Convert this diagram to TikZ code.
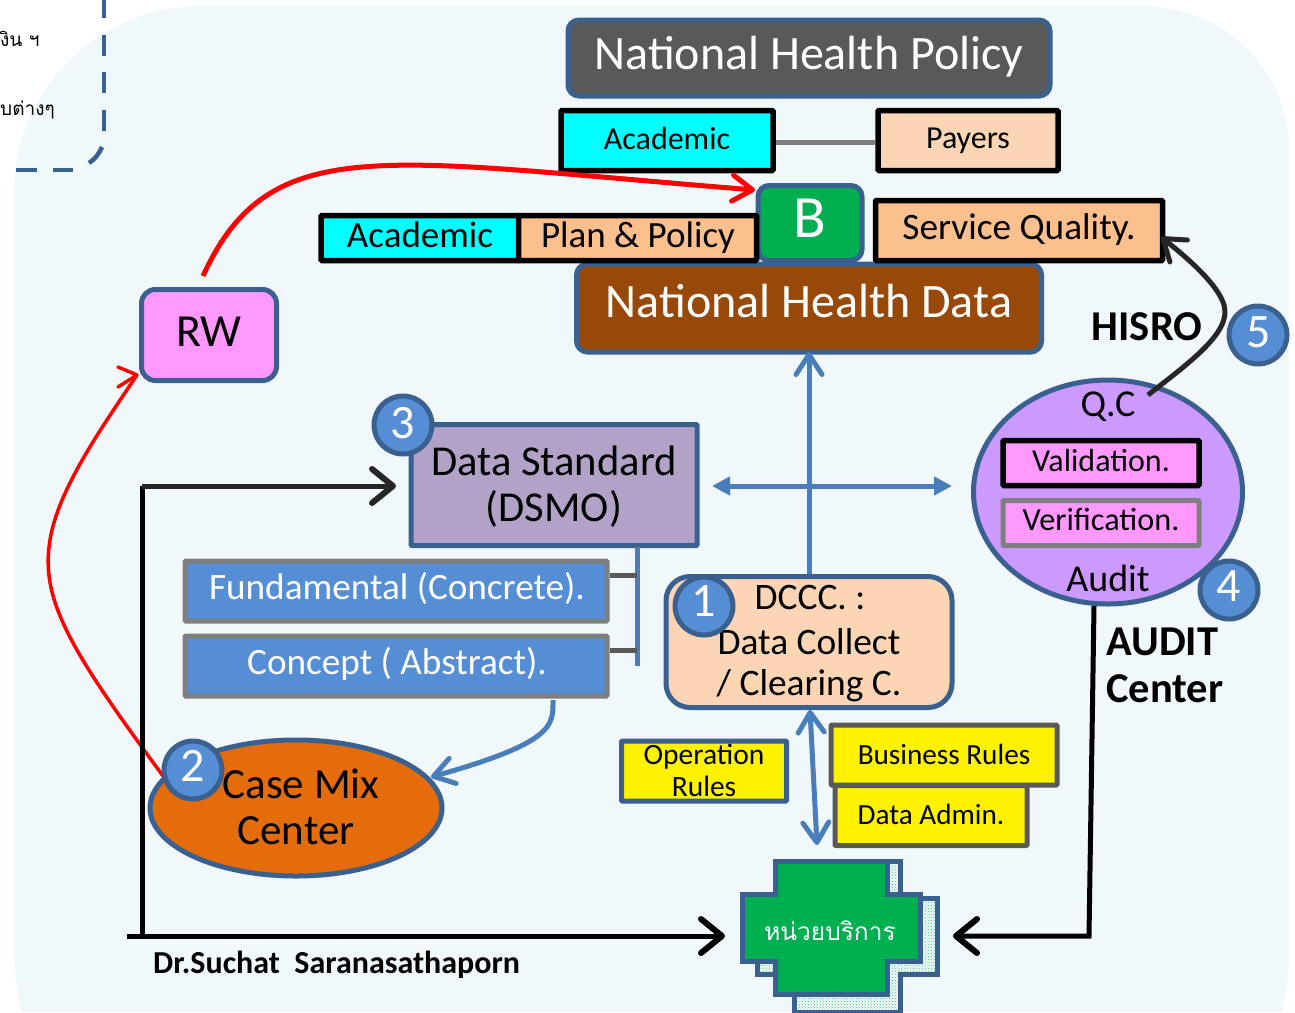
\documentclass[tikz,border=0pt]{standalone}
\usepackage{fontspec}
\setmainfont{Carlito}
\newfontfamily\thaifont[Script=Thai]{Loma}
\usetikzlibrary{arrows.meta,shapes.geometric,patterns}
\definecolor{bgc}{HTML}{F1F8FB}
\definecolor{edgeb}{HTML}{3A6090}
\definecolor{midb}{HTML}{4A7EBB}
\definecolor{fillb}{HTML}{558ED5}
\definecolor{greyb}{HTML}{7F7F7F}
\definecolor{peach}{HTML}{FCD5B5}
\definecolor{peachb}{HTML}{FCC08E}
\definecolor{aqua}{HTML}{00FFFF}
\definecolor{darkgrey}{HTML}{595959}
\definecolor{brownb}{HTML}{984807}
\definecolor{greenb}{HTML}{00B050}
\definecolor{pinkb}{HTML}{FF99FF}
\definecolor{lilac}{HTML}{CC99FF}
\definecolor{steel}{HTML}{B2A2C7}
\definecolor{orangeb}{HTML}{E46C0A}
\definecolor{darkc}{HTML}{262626}
\tikzset{
 fs/.style={font=\fontsize{#1}{#1}\selectfont},
 fb/.style={font=\bfseries\fontsize{#1}{#1}\selectfont},
 base/.style={inner sep=0pt,align=center,text=black},
 wt/.style={base,text=white},
 bluebox/.style={base,draw=edgeb,line width=5pt,rounded corners=11pt},
 blackbox/.style={base,draw=black,line width=5.5pt,rounded corners=1pt},
 greybox/.style={base,draw=greyb,line width=5pt,fill=fillb,rounded corners=1pt},
 badge/.style={circle,draw=edgeb,line width=5pt,fill=fillb,text=white,inner sep=0pt,minimum size=58pt},
 bbarb/.tip={Straight Barb[round,length=20pt,width=26pt,line width=5pt]},
 kbarb/.tip={Straight Barb[round,length=21pt,width=34pt,line width=6pt]},
 barrow/.style={draw=midb,line width=5pt},
 karrow/.style={draw=black,line width=5pt},
}
\newcommand{\boxat}[5][]{\node[#1,minimum width=#4pt,minimum height=#5pt] (#2) at (#3) {};}
\begin{document}
\begin{tikzpicture}[x=1pt,y=-1pt]
\useasboundingbox (0,0) rectangle (1295,1012);
\fill[bgc] (14,190) .. controls (14,90) and (100,6) .. (200,6) -- (1140,6) .. controls (1225,6) and (1289,70) .. (1289,150) -- (1289,950) .. controls (1289,975) and (1286,995) .. (1282,1012) -- (22,1012) .. controls (17,995) and (14,975) .. (14,950) -- cycle;
% corner fragment
\draw[edgeb,line width=4.5pt,dash pattern=on 21pt off 16.5pt] (104,-3) -- (104,131);
\draw[edgeb,line width=4.5pt] (102,147) .. controls (99,154) and (95,159) .. (89,163);
\draw[edgeb,line width=4.5pt] (73,170) -- (53,170);
\draw[edgeb,line width=4.5pt] (37,170) -- (16,170);
\node[base,anchor=west,fs=19] (frag1) at (0,39) {\thaifont งิน ฯ};
\node[base,anchor=west,fs=19] (frag2) at (0,110) {\thaifont บต่างๆ};
% top
\boxat[bluebox,fill=darkgrey]{policy}{809,58}{482}{76}
\node[wt,fs=48] (policyt) at (809,57) {National Health Policy};
\boxat[blackbox,fill=aqua]{acad1}{667,140.5}{212}{60}
\node[base,fs=32] (acad1t) at (667,139) {Academic};
\boxat[blackbox,fill=peach]{payers}{968,140.5}{180}{60}
\node[base,fs=32] (payerst) at (968,141) {Payers};
\draw[greyb,line width=5pt] ([yshift=-1.5pt]acad1.east) -- ([yshift=-1.5pt]payers.west);
\boxat[bluebox,fill=brownb]{data}{809,308}{465}{88}
\node[wt,fs=48] (datat) at (809,301) {National Health Data};
\boxat[bluebox,fill=greenb]{bnode}{810,223}{104}{75}
\node[wt,fs=60] (bt) at (810,218) {B};
\boxat[blackbox,fill=aqua]{acad2}{420,238}{198}{45}
\node[base,fs=37] (acad2t) at (420,235) {Academic};
\boxat[blackbox,fill=peachb]{plan}{637.5,238}{238}{45}
\node[base,fs=37] (plant) at (638,238) {Plan \& Policy};
\boxat[blackbox,fill=peachb]{quality}{1019,230.5}{287}{60}
\node[base,fs=37.3] (qualityt) at (1019,230) {Service Quality.};
% RW
\boxat[bluebox,fill=pinkb,rounded corners=14pt]{rw}{209,335}{135}{91}
\node[base,fs=46] (rwt) at (209,332) {RW};
% DSMO
\boxat[base,draw=edgeb,line width=5pt,fill=steel,rounded corners=1pt]{dsmo}{554,485}{286}{121}
\node[base,fs=42.6] (dsmot1) at (554,461) {Data Standard};
\node[base,fs=42.6] (dsmot2) at (554,509) {(DSMO)};
\coordinate (spine) at (637,547);
\coordinate (spineb) at (637,666);
\draw[midb,line width=5pt] (spine) -- (spineb);
\boxat[greybox]{fund}{396,591}{422}{60}
\node[wt,fs=37.2] (fundt) at (397,588) {Fundamental (Concrete).};
\boxat[greybox]{conc}{396,666}{422}{60}
\node[wt,fs=37.2] (conct) at (397,664) {Concept ( Abstract).};
\draw[darkgrey,line width=5pt] (fund.east|-0,575) -- (637,575);
\draw[darkgrey,line width=5pt] (conc.east|-0,650) -- (637,650);
% DCCC
\boxat[bluebox,fill=peach,rounded corners=24pt]{dccc}{809,642}{286}{131}
\node[base,fs=37.4] (dccct1) at (810,598) {DCCC. :};
\node[base,fs=37.4] (dccct2) at (809,642) {Data Collect};
\node[base,fs=37.4] (dccct3) at (809,686) {/ Clearing C.};
% QC ellipse
\node[ellipse,draw=edgeb,line width=5pt,fill=lilac,minimum width=269pt,minimum height=224pt,inner sep=0pt] (qc) at (1108,492) {};
\node[base,fs=38] (qct) at (1108,407) {Q.C};
\node[base,fs=38] (audt) at (1108,578) {Audit};
\boxat[blackbox,fill=pinkb]{valid}{1101,463}{196}{45}
\node[base,fs=32] (validt) at (1101,461) {Validation.};
\boxat[base,draw=greyb,line width=5pt,fill=pinkb,rounded corners=1pt]{verif}{1101,523}{196}{45}
\node[base,fs=32.2] (veriftx) at (1101,519) {Verification.};
% Case mix
\node[ellipse,draw=edgeb,line width=5pt,fill=orangeb,minimum width=292pt,minimum height=136pt,inner sep=0pt] (case) at (296,808) {};
\node[base,fs=43] (caset1) at (301,784) {Case Mix};
\node[base,fs=43] (caset2) at (296,831) {Center};
% yellow
\boxat[base,draw=edgeb,line width=5pt,fill=yellow,rounded corners=1pt]{oper}{704,771}{165}{60}
\node[base,fs=29.5] (opert1) at (704,757) {Operation};
\node[base,fs=29.5] (opert2) at (704,786) {Rules};
\boxat[base,draw=darkgrey,line width=5pt,fill=yellow,rounded corners=1pt]{bus}{944,755}{226}{60}
\node[base,fs=29.2] (bust) at (944,754) {Business Rules};
\boxat[base,draw=darkgrey,line width=5pt,fill=yellow,rounded corners=1pt]{adm}{931,815.5}{192}{60}
\node[base,fs=29.2] (admt) at (931,814) {Data Admin.};
% service cross
\draw[edgeb,line width=5pt,pattern=crosshatch dots,pattern color=greenb!70] (794,861)--(900,861)--(900,898)--(937,898)--(937,974)--(900,974)--(900,1012)--(794,1012)--(794,974)--(757,974)--(757,898)--(794,898)--cycle;
\draw[edgeb,line width=5pt,fill=greenb] (775,861)--(887,861)--(887,894)--(920,894)--(920,961)--(887,961)--(887,994)--(775,994)--(775,961)--(742,961)--(742,894)--(775,894)--cycle;
\coordinate (unitl) at (725,936);
\coordinate (unitr) at (953,936);
\node[wt,fs=24.5] (unit) at (830,931) {\thaifont หน่วยบริการ};
% connectors
\coordinate (datatip) at (809,352);
\coordinate (hl) at (712,486);
\coordinate (hr) at (952,486);
\coordinate (dccctop) at (809,574);
\coordinate (dcccbot) at (810,710);
\coordinate (unittop) at (817,845);
\draw[barrow,-{bbarb}] (dccctop) -- (datatip);
\draw[barrow,{Triangle[length=18pt,width=18pt]}-{Triangle[length=18pt,width=18pt]}] (hl) -- (hr);
\draw[barrow,{bbarb}-{bbarb}] (dcccbot) -- (unittop);
\coordinate (concb) at (553,700);
\coordinate (casetip) at (431,777);
\draw[barrow,-{bbarb}] (concb) .. controls (553,725) and (556,742) .. (casetip);
\coordinate (rwstart) at (203,276);
\coordinate (btip) at (755,190);
\draw[red,line width=5pt,-{Straight Barb[round,length=20pt,width=26pt,line width=5pt]}] (rwstart) .. controls (270,130) and (380,160) .. (btip);
\coordinate (casestart) at (166,780);
\coordinate (rwtip) at (137,375);
\coordinate (rwarm1) at (118,367);
\coordinate (rwarm2) at (118,387);
\draw[red,line width=3.5pt] (casestart) .. controls (70,650) and (40,600) .. (50,540) .. controls (58,490) and (100,430) .. (rwtip);
\draw[red,line width=3.5pt,line cap=round,line join=round] (rwarm1) -- (rwtip) -- (rwarm2);
\coordinate (k1) at (142,936);
\coordinate (k2) at (142,486);
\coordinate (dsmotip) at (396,486);
\draw[karrow] (k1) -- (k2);
\draw[darkc,line width=5pt,-{kbarb}] (k2) -- (dsmotip);
\coordinate (k3) at (127,936);
\draw[karrow,-{kbarb}] (k3) -- (unitl);
\coordinate (a1) at (1094,606);
\coordinate (a2) at (1089,936);
\draw[karrow,-{kbarb}] (a1) -- (a2) -- (unitr);
\coordinate (qcstart) at (1148,395);
\coordinate (qualtip) at (1161,237);
\draw[darkc,line width=5pt,-{Straight Barb[round,length=20pt,width=28pt,line width=5pt]}] (qcstart) .. controls (1190,362) and (1232,332) .. (1224,305) .. controls (1218,285) and (1190,260) .. (qualtip);
% labels
\node[base,fb=42.5] (hisro) at (1147,327) {HISRO};
\node[base,anchor=west,fb=42.5] (audit1) at (1106,642) {AUDIT};
\node[base,anchor=west,fb=42.5] (audit2) at (1106,689) {Center};
\node[base,anchor=west,fb=32] (dr) at (153,965) {Dr.Suchat\ \ Saranasathaporn};
% badges
\node[badge] (b1) at (704,606) {};
\node[wt,fs=48] (b1t) at (704,601) {1};
\node[badge] (b2) at (193,770) {};
\node[wt,fs=48] (b2t) at (193,766) {2};
\node[badge] (b3) at (403,425) {};
\node[wt,fs=48] (b3t) at (403,423) {3};
\node[badge] (b4) at (1229,590) {};
\node[wt,fs=48] (b4t) at (1229,586) {4};
\node[badge] (b5) at (1258,335) {};
\node[wt,fs=48] (b5t) at (1259,332) {5};
\end{tikzpicture}
\end{document}
